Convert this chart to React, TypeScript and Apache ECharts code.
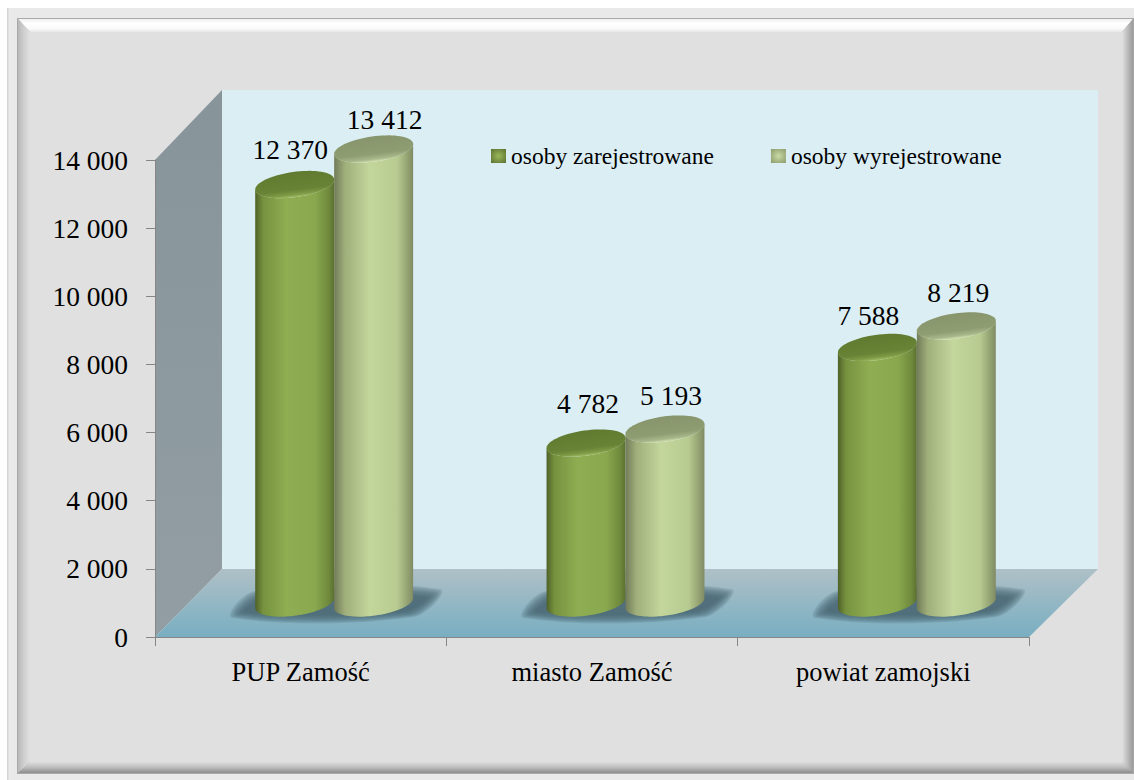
import React, { useEffect, useRef } from "react";
import * as echarts from "echarts";

const categories = ["PUP Zamość", "miasto Zamość", "powiat zamojski"];
const registered = [12370, 4782, 7588];
const deregistered = [13412, 5193, 8219];
const yMax = 14000;
const yStep = 2000;
const seriesNames = ["osoby zarejestrowane", "osoby wyrejestrowane"];

const FONT = '"Liberation Serif", "Times New Roman", serif';
const DEPTH_X = 33.5;
const DEPTH_Y = -31;
const BASE_LIFT = 3;
const TILT = (8 * Math.PI) / 180;
const BAND_FRACTION = 0.271;

// hand placement of the value labels relative to each cylinder's top centre
const regNudge = [[-4.5, -35], [2, -40], [-9, -32]];
const deregNudge = [[11, -30], [6, -34], [2, -33]];

const fmt = (v: number) => String(v).replace(/\B(?=(\d{3})+$)/g, " ");
const lin = (x2: number, y2: number, stops: [number, string][]) =>
  new echarts.graphic.LinearGradient(0, 0, x2, y2, stops.map(([offset, color]) => ({ offset, color })));
const capFill = (stops: [number, string][]) =>
  new echarts.graphic.LinearGradient(0.33, 0.02, 0.67, 0.98, stops.map(([offset, color]) => ({ offset, color })));

const ell = (cx: number, cy: number, a: number, b: number, t: number) => {
  const x = a * Math.cos(t);
  const y = b * Math.sin(t);
  return [cx + x * Math.cos(TILT) + y * Math.sin(TILT), cy - x * Math.sin(TILT) + y * Math.cos(TILT)];
};
const arc = (cx: number, cy: number, a: number, b: number, from: number, to: number, n = 48) => {
  const pts: number[][] = [];
  for (let i = 0; i <= n; i++) pts.push(ell(cx, cy, a, b, from + ((to - from) * i) / n));
  return pts;
};

const bodyStops: [number, string][][] = [
  [[0, "#4f6128"], [0.1, "#76923f"], [0.4, "#8fae52"], [0.75, "#8aa94f"], [0.93, "#6f8a3c"], [1, "#5b7030"]],
  [[0, "#727c59"], [0.14, "#a0af7b"], [0.45, "#c3d69b"], [0.8, "#b7ca90"], [0.94, "#919f70"], [1, "#7f8a63"]],
];
const capStops: [number, string][][] = [
  [[0, "#5f7a2f"], [0.68, "#688335"], [0.84, "#7f9c47"], [0.93, "#a3bd66"], [1, "#86a34c"]],
  [[0, "#87946c"], [0.66, "#8f9d72"], [0.84, "#a9b88b"], [0.93, "#d4e2b0"], [1, "#b9c997"]],
];

function cylinder(seriesIdx: number, values: number[], nudge: number[][]) {
  return (params: any, api: any) => {
    const i = api.value(0);
    const v = api.value(1);
    const band = api.size([1, 0])[0];
    const half = (band * BAND_FRACTION) / 2;
    const a = half / Math.cos(TILT);
    const b = half * 0.32;
    const base = api.coord([i, 0]);
    const top = api.coord([i, v]);
    const cx = base[0] + DEPTH_X + (seriesIdx === 0 ? -half : half);
    const by = base[1] + DEPTH_Y - BASE_LIFT;
    const ty = top[1] + DEPTH_Y;
    const body = [...arc(cx, by, a, b, Math.PI, 0), ...arc(cx, ty, a, b, 0, Math.PI, 12)];
    const n = nudge[params.dataIndex];
    return {
      type: "group",
      children: [
        { type: "polygon", shape: { points: body }, style: { fill: lin(1, 0, bodyStops[seriesIdx]) } },
        {
          type: "polygon",
          shape: { points: arc(cx, ty, a, b, 0, Math.PI * 2, 72) },
          style: { fill: capFill(capStops[seriesIdx]) },
        },
        {
          type: "text",
          style: {
            text: fmt(values[params.dataIndex]),
            x: cx + n[0],
            y: ty + n[1],
            fill: "#000",
            font: `27.5px ${FONT}`,
            textAlign: "center",
            textVerticalAlign: "middle",
          },
        },
      ],
    };
  };
}

// soft shadow on the floor, built up from layers that shrink towards the middle
function floorShadow(_params: any, api: any) {
  const base = api.coord([api.value(0), 0]);
  const cx = base[0] + DEPTH_X;
  const cy = base[1] + DEPTH_Y;
  const rel = [[-102, 12], [-80, -15], [106, -17], [80, 11]];
  const layers = 10;
  const children = [];
  for (let k = 0; k < layers; k++) {
    const f = k / (layers - 1);
    const sx = 1 - 0.14 * f;
    const sy = 1 - 0.5 * f;
    children.push({
      type: "polygon",
      shape: { points: rel.map(([x, y]) => [cx + x * sx, cy + y * sy]), smooth: 0.35 },
      style: { fill: "#4a6572", opacity: 0.17 },
    });
  }
  return { type: "group", children };
}

export default function App() {
  const ref = useRef<HTMLDivElement>(null);
  useEffect(() => {
    const chart = echarts.init(ref.current!, null, { renderer: "svg" });
    const poly = (points: number[][], fill: any) => ({ type: "polygon", z: -10, shape: { points }, style: { fill } });
    chart.setOption({
      animation: false,
      backgroundColor: "#ffffff",
      textStyle: { fontFamily: FONT },
      graphic: {
        elements: [
          { type: "rect", z: -10, shape: { x: 7, y: 8, width: 1127, height: 772 }, style: { fill: lin(1, 0, [[0, "#cfcfcf"], [0.002, "#e9e9e9"], [1, "#e9e9e9"]]) } },
          { type: "rect", z: -10, shape: { x: 17, y: 18, width: 1117, height: 756 }, style: { fill: "#a9a9a9" } },
          poly([[18, 19], [1133, 19], [1122, 32], [30, 32]], lin(0, 1, [[0, "#f0f0f0"], [0.35, "#ffffff"], [0.75, "#fafafa"], [1, "#e6e6e6"]])),
          poly([[18, 19], [30, 32], [30, 762], [18, 773]], lin(1, 0, [[0, "#b8b8b8"], [0.5, "#d0d0d0"], [1, "#e0e0e0"]])),
          poly([[1133, 19], [1122, 32], [1122, 762], [1133, 773]], lin(1, 0, [[0, "#e0e0e0"], [0.5, "#bdbdbd"], [1, "#9a9a9a"]])),
          poly([[18, 773], [30, 762], [1122, 762], [1133, 773]], lin(0, 1, [[0, "#dedede"], [0.5, "#bcbcbc"], [1, "#8c8c8c"]])),
          { type: "rect", z: -10, shape: { x: 30, y: 32, width: 1092, height: 730 }, style: { fill: "#e0e0e0" } },
          { type: "rect", z: -9, shape: { x: 222, y: 90, width: 876, height: 479 }, style: { fill: "#dbeef4" } },
          poly([[155, 160], [222, 90], [222, 569], [155, 637]], lin(0, 1, [[0, "#87949a"], [1, "#929ea3"]])),
          poly([[155, 637], [222, 569], [1098, 569], [1029, 637]], lin(0, 1, [[0, "#afc0c7"], [1, "#78aec1"]])),
        ],
      },
      legend: {
        left: 486,
        top: 139,
        itemWidth: 15,
        itemHeight: 14,
        itemGap: 57,
        selectedMode: false,
        textStyle: { fontFamily: FONT, fontSize: 23.5, color: "#000" },
        data: [
          { name: seriesNames[0], icon: "rect", itemStyle: { color: new echarts.graphic.RadialGradient(0.5, 0.5, 0.7, [{ offset: 0, color: "#9ab85a" }, { offset: 1, color: "#5b7030" }]) } },
          { name: seriesNames[1], icon: "rect", itemStyle: { color: new echarts.graphic.RadialGradient(0.5, 0.5, 0.7, [{ offset: 0, color: "#c9daa3" }, { offset: 1, color: "#8b9a6a" }]) } },
        ],
      },
      grid: { left: 155, top: 160, width: 874, height: 477 },
      xAxis: {
        type: "category",
        data: categories,
        boundaryGap: true,
        axisLine: { show: true, lineStyle: { color: "#868686", width: 1 } },
        axisTick: { show: true, length: 9, alignWithLabel: false, lineStyle: { color: "#868686" } },
        axisLabel: { color: "#000", fontFamily: FONT, fontSize: 26.5, margin: 21 },
      },
      yAxis: {
        type: "value",
        min: 0,
        max: yMax,
        interval: yStep,
        splitLine: { show: false },
        axisLine: { show: true, lineStyle: { color: "#868686", width: 1 } },
        axisTick: { show: true, length: 9, lineStyle: { color: "#868686" } },
        axisLabel: { color: "#000", fontFamily: FONT, fontSize: 27.5, margin: 27, formatter: (v: number) => fmt(v) },
      },
      series: [
        {
          type: "custom",
          coordinateSystem: "cartesian2d",
          clip: false,
          silent: true,
          data: categories.map((_, i) => [i, 0]),
          encode: { x: 0, y: 1 },
          renderItem: floorShadow,
        },
        {
          type: "custom",
          name: seriesNames[0],
          coordinateSystem: "cartesian2d",
          clip: false,
          silent: true,
          data: registered.map((v, i) => [i, v]),
          encode: { x: 0, y: 1 },
          renderItem: cylinder(0, registered, regNudge),
        },
        {
          type: "custom",
          name: seriesNames[1],
          coordinateSystem: "cartesian2d",
          clip: false,
          silent: true,
          data: deregistered.map((v, i) => [i, v]),
          encode: { x: 0, y: 1 },
          renderItem: cylinder(1, deregistered, deregNudge),
        },
      ],
    });
    return () => chart.dispose();
  }, []);
  return <div ref={ref} style={{ position: "absolute", left: 0, top: 0, width: 1134, height: 780 }} />;
}
